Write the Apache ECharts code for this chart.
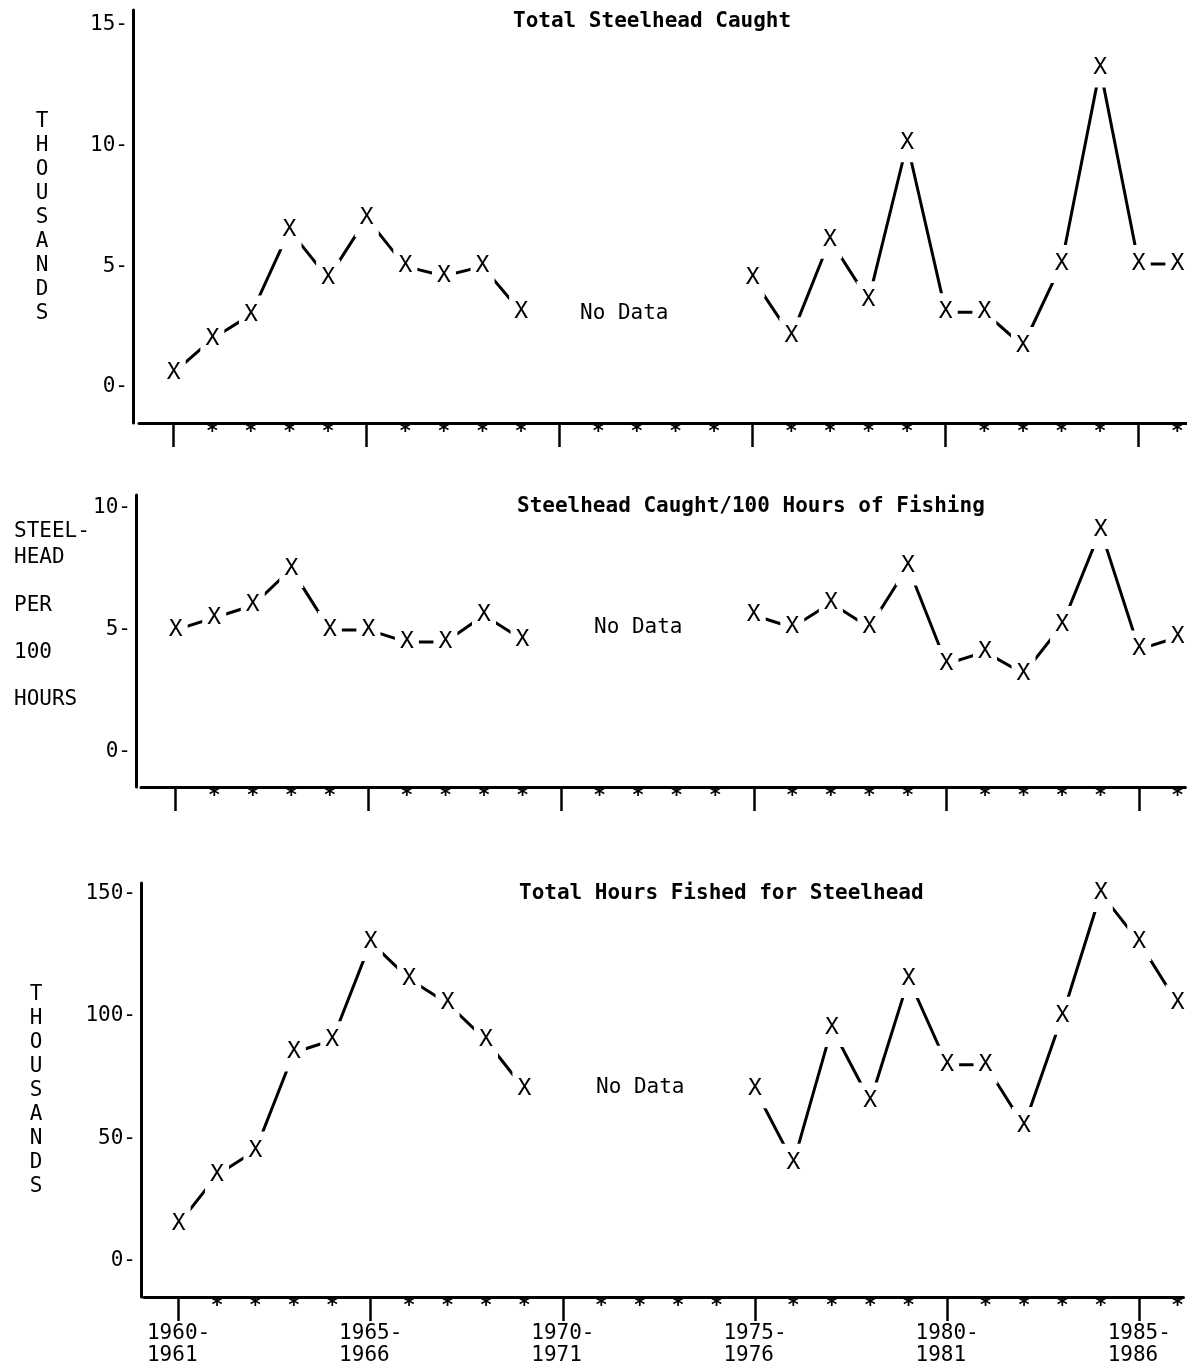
<!DOCTYPE html>
<html>
<head>
<meta charset="utf-8">
<script src="https://cdn.jsdelivr.net/npm/echarts@6/dist/echarts.min.js"></script>
<style>
  html, body { margin: 0; padding: 0; background: #fff; }
  #chart { width: 1187px; height: 1367px; }
</style>
</head>
<body>
<div id="chart"></div>
<script>
// seasons are labelled by their first year (1960 = 1960-1961)
const yearsEarly = [1960, 1961, 1962, 1963, 1964, 1965, 1966, 1967, 1968, 1969]
const yearsLate = [1975, 1976, 1977, 1978, 1979, 1980, 1981, 1982, 1983, 1984, 1985, 1986]
const majorYears = [1960, 1965, 1970, 1975, 1980, 1985]
const minorYears = [1961, 1962, 1963, 1964, 1966, 1967, 1968, 1969, 1971, 1972, 1973, 1974,
  1976, 1977, 1978, 1979, 1981, 1982, 1983, 1984, 1986]

// total steelhead caught (thousands)
const caughtEarly = [0.6, 2.0, 3.0, 6.5, 4.5, 7.0, 5.0, 4.6, 5.0, 3.1]
const caughtLate = [4.5, 2.1, 6.1, 3.6, 10.1, 3.1, 3.1, 1.7, 5.1, 13.2, 5.1, 5.1]
// steelhead caught per 100 hours
const rateEarly = [5.0, 5.5, 6.0, 7.5, 5.0, 5.0, 4.5, 4.5, 5.6, 4.6]
const rateLate = [5.6, 5.1, 6.1, 5.1, 7.6, 3.6, 4.1, 3.2, 5.2, 9.1, 4.2, 4.7]
// total hours fished (thousands)
const hoursEarly = [15, 35, 45, 85, 90, 130, 115, 105, 90, 70]
const hoursLate = [70, 40, 95, 65, 115, 80, 80, 55, 100, 150, 130, 105]

const ticksCaught = [0, 5, 10, 15]
const ticksRate = [0, 5, 10]
const ticksHours = [0, 50, 100, 150]

const FONT = 'DejaVu Sans Mono'

const pairs = (xs, ys) => xs.map((x, i) => [x, ys[i]])

const makeLine = (idx, xs, ys) => ({
  type: 'line',
  xAxisIndex: idx,
  yAxisIndex: idx,
  data: pairs(xs, ys),
  silent: true,
  symbol: 'rect',
  symbolSize: [24, 38],
  itemStyle: { color: '#fff' },
  lineStyle: { color: '#000', width: 3 },
  label: {
    show: true,
    position: 'inside',
    formatter: 'X',
    color: '#000',
    fontFamily: FONT,
    fontSize: 23
  },
  emphasis: { disabled: true }
})

const makeY = (idx, min, max, ticks, offset) => ({
  type: 'value',
  gridIndex: idx,
  min: min,
  max: max,
  offset: offset,
  splitLine: { show: false },
  axisLine: { show: true, lineStyle: { color: '#000', width: 3 } },
  axisTick: { show: false },
  axisLabel: {
    customValues: ticks,
    formatter: v => v + '-',
    margin: 5,
    color: '#000',
    fontFamily: FONT,
    fontSize: 21
  }
})

const makeX = (idx, max) => ({
  type: 'value',
  gridIndex: idx,
  position: 'bottom',
  min: 1959.1,
  max: max,
  splitLine: { show: false },
  axisLine: { show: true, onZero: false, lineStyle: { color: '#000', width: 3 } },
  axisTick: {
    show: true,
    customValues: majorYears,
    length: 24,
    lineStyle: { color: '#000', width: 2.5 }
  },
  axisLabel: {
    customValues: minorYears,
    formatter: () => '*',
    margin: -1,
    color: '#000',
    fontFamily: FONT,
    fontWeight: 'bold',
    fontSize: 21
  }
})

const txt = (x, y, text, extra) => ({
  type: 'text',
  x: x,
  y: y,
  style: Object.assign({
    text: text,
    fill: '#000',
    font: '21px "' + FONT + '"',
    verticalAlign: 'middle'
  }, extra || {})
})

const vertical = word => word.split('').join('\n')

const option = {
  animation: false,
  backgroundColor: '#fff',
  grid: [
    { left: 139, right: 0, top: 10, bottom: 944 },
    { left: 141, right: 0, top: 495, bottom: 580 },
    { left: 144, right: 0, top: 883, bottom: 70 }
  ],
  xAxis: [
    makeX(0, 1986.25),
    makeX(1, 1986.2),
    makeX(2, 1986.15),
    {
      type: 'value',
      gridIndex: 2,
      position: 'bottom',
      min: 1959.1,
      max: 1986.15,
      splitLine: { show: false },
      axisLine: { show: false, onZero: false },
      axisTick: { show: false },
      axisLabel: {
        customValues: majorYears,
        formatter: v => v + '-\n' + (v + 1) + ' ',
        margin: 26,
        lineHeight: 22,
        color: '#000',
        fontFamily: FONT,
        fontSize: 21
      }
    }
  ],
  yAxis: [
    makeY(0, -1.49, 15.62, ticksCaught, 6),
    makeY(1, -1.44, 10.53, ticksRate, 5),
    makeY(2, -14.7, 154.1, ticksHours, 3)
  ],
  series: [
    makeLine(0, yearsEarly, caughtEarly),
    makeLine(0, yearsLate, caughtLate),
    makeLine(1, yearsEarly, rateEarly),
    makeLine(1, yearsLate, rateLate),
    makeLine(2, yearsEarly, hoursEarly),
    makeLine(2, yearsLate, hoursLate)
  ],
  graphic: [
    txt(513, 22, 'Total Steelhead Caught', { font: 'bold 21px "' + FONT + '"' }),
    txt(517, 507, 'Steelhead Caught/100 Hours of Fishing', { font: 'bold 21px "' + FONT + '"' }),
    txt(519, 894, 'Total Hours Fished for Steelhead', { font: 'bold 21px "' + FONT + '"' }),
    txt(580, 314, 'No Data'),
    txt(594, 628, 'No Data'),
    txt(596, 1088, 'No Data'),
    txt(42, 110, vertical('THOUSANDS'), { align: 'center', verticalAlign: 'top', lineHeight: 24 }),
    txt(36, 983, vertical('THOUSANDS'), { align: 'center', verticalAlign: 'top', lineHeight: 24 }),
    txt(14, 532, 'STEEL-'),
    txt(14, 558, 'HEAD'),
    txt(14, 606, 'PER'),
    txt(14, 653, '100'),
    txt(14, 700, 'HOURS')
  ]
}

const chart = echarts.init(document.getElementById('chart'))
chart.setOption(option)
</script>
</body>
</html>
